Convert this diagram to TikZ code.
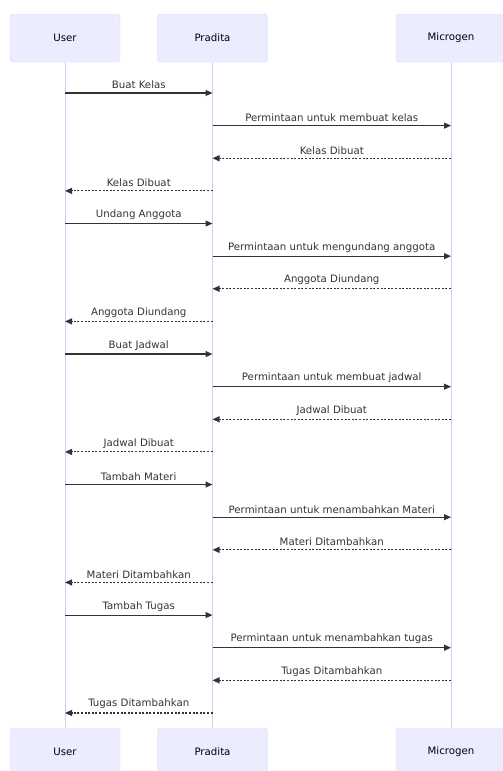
\documentclass[tikz,border=0pt]{standalone}
\usepackage{fontspec}
\setmainfont{DejaVu Sans}
\usetikzlibrary{positioning,arrows.meta}
\definecolor{boxfill}{HTML}{ECECFF}
\definecolor{boxline}{HTML}{DCD8F6}
\definecolor{lifecol}{HTML}{D6CCF6}
\definecolor{arrowcol}{HTML}{333333}

\tikzset{
    actor/.style={draw=boxline,fill=boxfill,rounded corners=3pt,minimum width=110pt,minimum height=48pt,
        inner sep=0pt,font=\fontsize{10.2}{12}\selectfont,text=black},
    lifeline/.style={draw=lifecol,line width=1pt},
    msg/.style={draw=arrowcol,line width=1.1pt,-{Triangle[length=7pt,width=6pt]}},
    reply/.style={msg,dash pattern=on 2pt off 1.6pt},
    msglabel/.style={font=\fontsize{10.2}{12}\selectfont,text=arrowcol,above=0pt}
}

\begin{document}
\begin{tikzpicture}[x=1pt,y=-1pt]
\useasboundingbox (0,0) rectangle (503,771);

    % actors, top and bottom
    \node[actor] (usrT) at (65,38) {User};
    \node[actor] (prdT) at (212.5,38) {Pradita};
    \node[actor] (mcgT) at (451,38) {Microgen};
    \node[actor] (usrB) at (65,752) {User};
    \node[actor] (prdB) at (212.5,752) {Pradita};
    \node[actor] (mcgB) at (451,752) {Microgen};

    % lifelines
    \draw[lifeline] (usrT) -- (usrB);
    \draw[lifeline] (prdT) -- (prdB);
    \draw[lifeline] (mcgT) -- (mcgB);

    % messages
    \foreach \from/\to/\txt/\kind [count=\i] in {
        usr/prd/Buat Kelas/msg,
        prd/mcg/Permintaan untuk membuat kelas/msg,
        mcg/prd/Kelas Dibuat/reply,
        prd/usr/Kelas Dibuat/reply,
        usr/prd/Undang Anggota/msg,
        prd/mcg/Permintaan untuk mengundang anggota/msg,
        mcg/prd/Anggota Diundang/reply,
        prd/usr/Anggota Diundang/reply,
        usr/prd/Buat Jadwal/msg,
        prd/mcg/Permintaan untuk membuat jadwal/msg,
        mcg/prd/Jadwal Dibuat/reply,
        prd/usr/Jadwal Dibuat/reply,
        usr/prd/Tambah Materi/msg,
        prd/mcg/Permintaan untuk menambahkan Materi/msg,
        mcg/prd/Materi Ditambahkan/reply,
        prd/usr/Materi Ditambahkan/reply,
        usr/prd/Tambah Tugas/msg,
        prd/mcg/Permintaan untuk menambahkan tugas/msg,
        mcg/prd/Tugas Ditambahkan/reply,
        prd/usr/Tugas Ditambahkan/reply}
    {
        \pgfmathsetmacro{\y}{93+(\i-1)*32.63}
        \coordinate (m\i s) at (\from T.south |- 0,\y);
        \coordinate (m\i e) at (\to T.south |- 0,\y);
        \draw[\kind] (m\i s) -- (m\i e) node[msglabel,midway] {\txt};
    }
\end{tikzpicture}
\end{document}
